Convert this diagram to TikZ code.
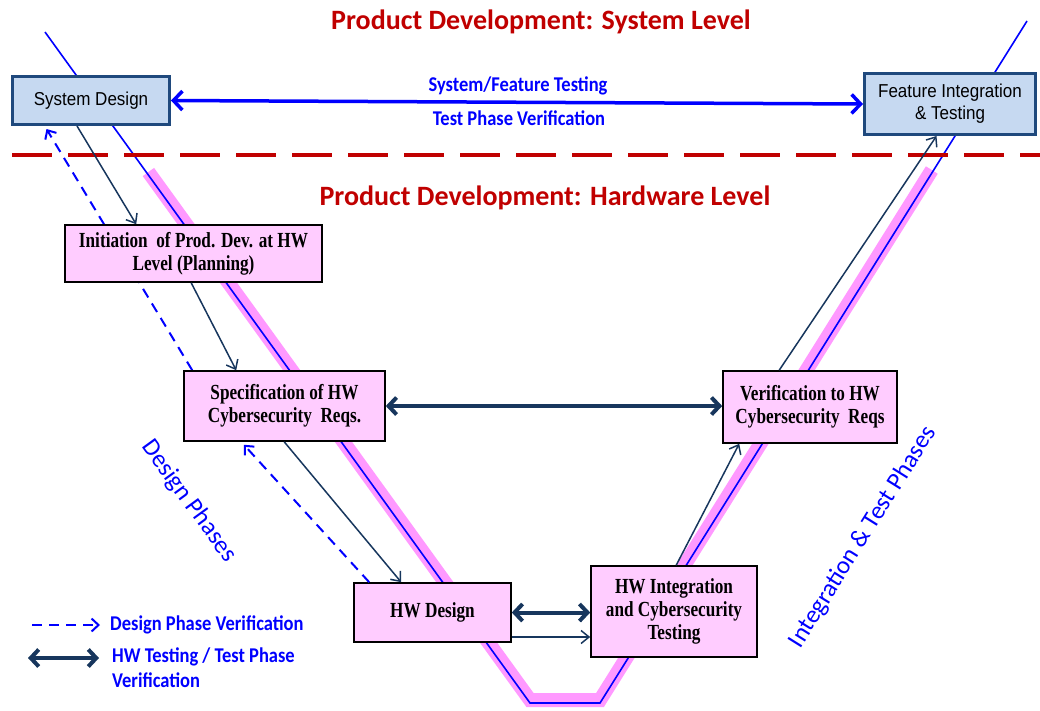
\documentclass[tikz,border=0pt]{standalone}
\usepackage{fontspec}
\setmainfont{Liberation Serif}
\newfontfamily\calfont{Carlito}
\newfontfamily\callbl[FakeStretch=0.88]{Carlito}
\newfontfamily\boxfont[FakeStretch=0.8]{Liberation Serif}
\newfontfamily\arialfont[FakeStretch=0.91]{Liberation Sans}
\usetikzlibrary{arrows.meta}
\pgfdeclarelayer{back}
\pgfsetlayers{back,main}
\definecolor{navy}{RGB}{23,54,93}
\definecolor{vblue}{RGB}{0,0,255}
\definecolor{titlered}{RGB}{192,0,0}
\definecolor{boxpink}{RGB}{255,204,255}
\definecolor{bandpink}{RGB}{255,153,255}
\definecolor{sysfill}{RGB}{198,217,241}
\definecolor{sysborder}{RGB}{31,73,125}
\begin{document}
\begin{tikzpicture}[x=1pt,y=-1pt,
  hwbox/.style={draw=black, line width=1.6pt, fill=boxpink, font=\boxfont\bfseries\fontsize{21.5}{23}\selectfont, align=center, inner sep=0pt},
  sysbox/.style={draw=sysborder, line width=3pt, fill=sysfill, font=\arialfont\fontsize{18.7}{22}\selectfont, align=center, inner sep=0pt},
  titletext/.style={font=\calfont\bfseries\fontsize{28}{32}\selectfont, text=titlered, inner sep=0pt},
  lbl/.style={font=\callbl\bfseries\fontsize{21}{25}\selectfont, text=vblue, inner sep=0pt},
  rottext/.style={font=\calfont\fontsize{25}{30}\selectfont, text=vblue, inner sep=0pt},
  navyarrow/.style={draw=navy, line width=1.5pt, -{Straight Barb[length=8pt,width=13pt]}},
  thickdbl/.style={draw=navy, line width=4pt, {Straight Barb[length=8pt,width=17pt]}-{Straight Barb[length=8pt,width=17pt]}},
  bluedbl/.style={draw=vblue, line width=3.5pt, {Straight Barb[length=9pt,width=19pt]}-{Straight Barb[length=9pt,width=19pt]}},
  dasharrow/.style={draw=vblue, line width=2pt, dash pattern=on 10pt off 7pt, -{Straight Barb[length=7pt,width=13pt]}}
]
\useasboundingbox (0,0) rectangle (1040,710);

% titles
\node[titletext] (t1) at (541,22) {Product Development: System Level};
\node[titletext] (t2) at (545,198) {Product Development: Hardware Level};

% separator
\draw[titlered, line width=4.5pt, dash pattern=on 40pt off 16pt] (12,155) -- (1040,155);

% boxes
\node[sysbox, minimum width=157, minimum height=48] (sys) at (91,100.5) {System Design};
\node[sysbox, minimum width=171, minimum height=61] (feat) at (950,104) {Feature Integration\\\& Testing};
\node[hwbox, minimum width=257, minimum height=57] (init) at (193.5,253.5) {Initiation\ \ of Prod. Dev. at HW\\Level (Planning)};
\node[hwbox, minimum width=201, minimum height=70] (spec) at (284.5,406) {Specification of HW\\Cybersecurity\ \ Reqs.};
\node[hwbox, minimum width=174, minimum height=72] (verif) at (810,407) {Verification to HW\\Cybersecurity\ \ Reqs};
\node[hwbox, minimum width=157, minimum height=59] (hwd) at (432.5,612.5) {HW Design};
\node[hwbox, minimum width=166, minimum height=91] (hwi) at (674,611.5) {HW Integration\\and Cybersecurity\\Testing};

% V shape and design verification behind boxes
\begin{pgfonlayer}{back}
\draw[bandpink, line width=14pt] (148.4,172) -- (530,700) -- (600,700) -- (931.8,170);
\draw[vblue, line width=1.6pt] (45,32) -- (530,703) -- (600,703) -- (1027,21);
\draw[dasharrow] ([xshift=9]spec.north west) -- ([xshift=35.5,yshift=-3]sys.south west);
\end{pgfonlayer}

% labels of system-level arrow
\node[lbl] (tl1) at (518,86) {System/Feature Testing};
\node[lbl] (tl2) at (519,118) {Test Phase Verification};
\draw[bluedbl] (sys.east) -- (feat.west);

% flow arrows
\draw[navyarrow] ([xshift=66]sys.south west) -- ([xshift=72]init.north west);
\draw[navyarrow] ([xshift=127]init.south west) -- ([xshift=53]spec.north west);
\draw[navyarrow] ([xshift=101]spec.south west) -- ([xshift=48]hwd.north west);
\draw[navyarrow] ([yshift=-24.5]hwd.east) -- ([yshift=-24.5]hwd.east -| hwi.west);
\draw[navyarrow] ([xshift=86]hwi.north west) -- ([xshift=17]verif.south west);
\draw[navyarrow] ([xshift=57]verif.north west) -- ([xshift=73.5]feat.south west);

\draw[thickdbl] (spec.east) -- (spec.east -| verif.west);
\draw[thickdbl] (hwd.east) -- (hwd.east -| hwi.west);

\draw[dasharrow, shorten >=4pt] ([xshift=16]hwd.north west) -- ([xshift=58]spec.south west);

% rotated phase labels
\node[rottext, rotate=-54] (dp) at (189,501) {Design Phases};
\node[rottext, rotate=58] (itp) at (863,537) {Integration \& Test Phases};

% legend
\node[lbl, anchor=west] (leg1) at (110,625) {Design Phase Verification};
\node[lbl, anchor=west, align=left] (leg2) at (112,667.5) {HW Testing / Test Phase\\Verification};
\coordinate (l1a) at (32,625);
\coordinate (l2a) at (28,658);
\coordinate (l2b) at (99,658);
\draw[dasharrow] (l1a) -- ([xshift=-10]leg1.west);
\draw[thickdbl] (l2a) -- (l2b);
\end{tikzpicture}
\end{document}
